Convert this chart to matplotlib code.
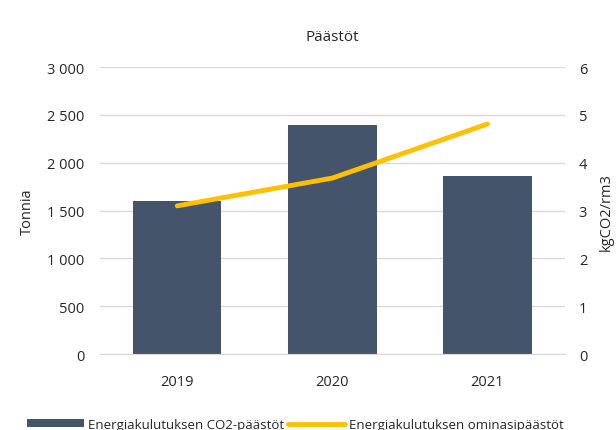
import matplotlib.pyplot as plt
import numpy as np

plt.rcParams['font.family'] = ['Open Sans', 'DejaVu Sans']
plt.rcParams['font.size'] = 10.5

years = ['2019', '2020', '2021']
co2 = [1600, 2400, 1860]
specific = [3.1, 3.68, 4.81]

fig = plt.figure(figsize=(6.16, 4.31), dpi=100)
ax = fig.add_axes([0.162, 0.176, 0.755, 0.666])
x = np.arange(len(years))

ax.bar(x, co2, width=0.57, color='#44546A', label='Energiakulutuksen CO2-päästöt', zorder=2)
ax.set_ylim(0, 3000)
ax.set_xlim(-0.5, 2.5)
ax.set_yticks(range(0, 3001, 500))
ax.set_yticklabels([f'{v:,}'.replace(',', ' ') for v in range(0, 3001, 500)])
ax.set_xticks(x)
ax.set_xticklabels(years)
ax.grid(axis='y', color='#D9D9D9', linewidth=1, zorder=0)
ax.set_axisbelow(True)
for s in ax.spines.values():
    s.set_visible(False)
ax.spines['bottom'].set_visible(True)
ax.spines['bottom'].set_color('#D9D9D9')
ax.tick_params(axis='y', length=0, colors='#262626', pad=11)
ax.tick_params(axis='x', length=0, colors='#262626', pad=14)
ax.set_ylabel('Tonnia', color='#262626', labelpad=9)

ax2 = ax.twinx()
ax2.plot(x, specific, color='#FFC000', linewidth=3.5, solid_capstyle='round',
         label='Energiakulutuksen ominasipäästöt', zorder=3)
ax2.set_ylim(0, 6)
ax2.set_yticks(range(0, 7))
for s in ax2.spines.values():
    s.set_visible(False)
ax2.tick_params(length=0, colors='#262626', pad=10)
ax2.set_ylabel('kgCO2/rm3', color='#262626', labelpad=8)

fig.suptitle('Päästöt', x=0.54, y=0.93, fontsize=11, color='#262626')

h1, l1 = ax.get_legend_handles_labels()
h2, l2 = ax2.get_legend_handles_labels()
fig.legend(h1 + h2, l1 + l2, loc='lower left', bbox_to_anchor=(0.025, -0.03), ncol=2,
           frameon=False, handlelength=4.3, handleheight=0.55, columnspacing=0.3,
           handletextpad=0.3, fontsize=9.5, labelcolor='#262626')

fig.savefig('out.png', dpi=100)
